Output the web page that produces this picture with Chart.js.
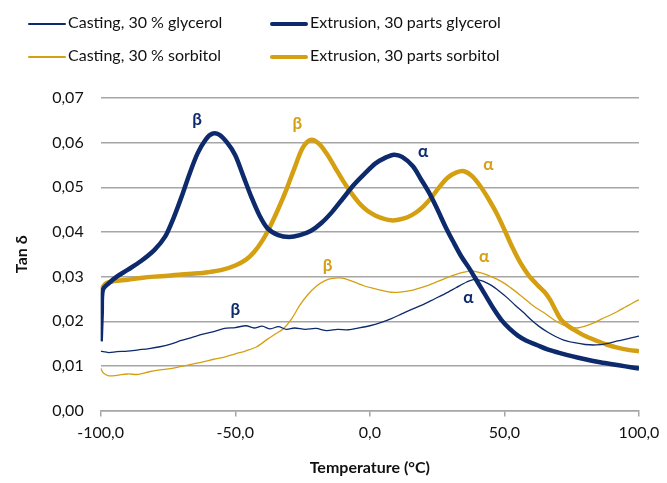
<!DOCTYPE html>
<html>
<head>
<meta charset="utf-8">
<script src="https://cdn.jsdelivr.net/npm/chart.js@4"></script>
<style>
  html, body { margin: 0; padding: 0; background: #fff; }
  #wrap { position: relative; width: 667px; height: 483px; }
  #legend { position: absolute; left: 0; top: 0; width: 667px; font-family: Lato, "Open Sans", sans-serif; font-size: 16px; color: #111; }
  .item { position: absolute; height: 20px; line-height: 20px; white-space: nowrap; }
  .item span.sw { display: inline-block; width: 38px; vertical-align: middle; margin-right: 2px; }
</style>
</head>
<body>
<div id="wrap">
  <canvas id="tanChart" width="667" height="483"></canvas>
  <div id="legend"></div>
</div>
<script>
// colours
const navy = "#0d2a6c";
const gold = "#d4a012";

// tick labels
const xTicks = [-100, -50, 0, 50, 100];
const yTicks = [0, 0.01, 0.02, 0.03, 0.04, 0.05, 0.06, 0.07];

// Casting, 30 % glycerol
const castGlyT = [-100, -97, -94, -90, -86, -82, -78, -74, -70, -66, -62, -58, -54, -50, -46, -43, -40, -37, -34, -31, -28, -24, -20, -16, -12, -8, -4, 0, 4, 8, 12, 16, 20, 24, 28, 32, 36, 39, 42, 45, 48, 51, 54, 57, 60, 63, 66, 69, 72, 76, 80, 84, 88, 92, 96, 100];
const castGlyV = [0.0133, 0.0130, 0.0132, 0.0133, 0.0136, 0.0139, 0.0143, 0.0149, 0.0157, 0.0164, 0.0171, 0.0177, 0.0184, 0.0186, 0.0190, 0.0185, 0.0189, 0.0183, 0.0188, 0.0182, 0.0185, 0.0182, 0.0184, 0.0179, 0.0182, 0.0181, 0.0185, 0.0190, 0.0197, 0.0206, 0.0217, 0.0228, 0.0238, 0.0250, 0.0262, 0.0275, 0.0288, 0.0294, 0.0290, 0.0281, 0.0268, 0.0253, 0.0236, 0.0220, 0.0203, 0.0188, 0.0176, 0.0166, 0.0158, 0.0152, 0.0148, 0.0147, 0.0150, 0.0156, 0.0161, 0.0167];

// Extrusion, 30 parts glycerol
const extGlyT = [-100, -99.6, -99.2, -97, -94, -90, -85, -80, -76, -73, -70, -67, -64, -61, -58.5, -56, -53, -50, -47, -44, -41, -38, -34, -30, -26, -22, -18, -14, -10, -6, -2, 2, 6, 9, 12, 16, 19, 22, 25, 28, 31, 34, 37, 40, 43, 46, 49, 52, 55, 58, 62, 66, 70, 75, 80, 85, 90, 95, 100];
const extGlyV = [0.0155, 0.0220, 0.0270, 0.0285, 0.0300, 0.0315, 0.0335, 0.0360, 0.0390, 0.0430, 0.0478, 0.0530, 0.0576, 0.0607, 0.0620, 0.0618, 0.0600, 0.0572, 0.0525, 0.0478, 0.0437, 0.0408, 0.0393, 0.0389, 0.0393, 0.0402, 0.0420, 0.0445, 0.0475, 0.0505, 0.0530, 0.0553, 0.0567, 0.0573, 0.0568, 0.0547, 0.0518, 0.0488, 0.0452, 0.0413, 0.0378, 0.0345, 0.0318, 0.0288, 0.0258, 0.0228, 0.0202, 0.0183, 0.0168, 0.0157, 0.0147, 0.0137, 0.0130, 0.0122, 0.0115, 0.0109, 0.0104, 0.0099, 0.0094];

// Casting, 30 % sorbitol
const castSorT = [-100, -99, -97, -94, -90, -86, -82, -78, -74, -70, -66, -62, -58, -54, -50, -46, -42, -38, -35, -32, -29, -26, -23, -20, -17, -14, -11, -8, -5, -2, 1, 4, 8, 12, 16, 20, 24, 28, 32, 35, 38, 41, 44, 47, 50, 53, 56, 59, 62, 65, 68, 71, 74, 77, 80, 83, 86, 89, 92, 95, 98, 100];
const castSorV = [0.0095, 0.0084, 0.0078, 0.0079, 0.0082, 0.0081, 0.0087, 0.0091, 0.0094, 0.0099, 0.0104, 0.0109, 0.0115, 0.0120, 0.0127, 0.0134, 0.0143, 0.0160, 0.0172, 0.0184, 0.0206, 0.0236, 0.0260, 0.0278, 0.0290, 0.0296, 0.0297, 0.0293, 0.0286, 0.0279, 0.0274, 0.0270, 0.0265, 0.0266, 0.0270, 0.0277, 0.0286, 0.0296, 0.0305, 0.0310, 0.0313, 0.0309, 0.0303, 0.0295, 0.0285, 0.0272, 0.0258, 0.0243, 0.0229, 0.0218, 0.0205, 0.0194, 0.0188, 0.0185, 0.0189, 0.0196, 0.0205, 0.0213, 0.0222, 0.0232, 0.0242, 0.0248];

// Extrusion, 30 parts sorbitol
const extSorT = [-100, -98, -95, -90, -85, -80, -75, -70, -65, -60, -55, -50, -46, -43, -40, -37, -34, -31, -28, -25, -22, -19, -16, -13, -10, -7, -4, -1, 2, 5, 8, 11, 14, 17, 20, 23, 26, 29, 32, 35, 38, 41, 44, 47, 50, 53, 56, 59, 62, 65, 67, 69, 71, 74, 77, 80, 84, 88, 92, 96, 100];
const extSorV = [0.0270, 0.0285, 0.0290, 0.0293, 0.0297, 0.0300, 0.0302, 0.0305, 0.0307, 0.0310, 0.0315, 0.0325, 0.0338, 0.0355, 0.0380, 0.0413, 0.0452, 0.0495, 0.0543, 0.0588, 0.0606, 0.0598, 0.0575, 0.0545, 0.0515, 0.0488, 0.0465, 0.0448, 0.0437, 0.0430, 0.0426, 0.0428, 0.0433, 0.0443, 0.0458, 0.0478, 0.0502, 0.0522, 0.0533, 0.0536, 0.0525, 0.0503, 0.0475, 0.0443, 0.0405, 0.0365, 0.0330, 0.0303, 0.0283, 0.0265, 0.0248, 0.0225, 0.0204, 0.0188, 0.0177, 0.0167, 0.0157, 0.0148, 0.0141, 0.0136, 0.0133];

// peak labels
const peakText = ["β", "β", "α", "α", "β", "β", "α", "α"];
const peakT = [-64.2, -26.9, 19.8, 44.0, -15.7, -50.0, 42.5, 36.6];
const peakV = [0.0652, 0.0642, 0.0580, 0.0552, 0.0325, 0.0226, 0.0346, 0.0253];
const peakCol = [navy, gold, navy, gold, gold, navy, gold, navy];

function pts(ts, vs) {
  return ts.map((t, i) => ({ x: t, y: vs[i] }));
}

const series = [
  { label: "Casting, 30 % glycerol", data: pts(castGlyT, castGlyV), borderColor: navy, borderWidth: 1.3 },
  { label: "Extrusion, 30 parts glycerol", data: pts(extGlyT, extGlyV), borderColor: navy, borderWidth: 4.5 },
  { label: "Casting, 30 % sorbitol", data: pts(castSorT, castSorV), borderColor: gold, borderWidth: 1.3 },
  { label: "Extrusion, 30 parts sorbitol", data: pts(extSorT, extSorV), borderColor: gold, borderWidth: 4.5 },
];
series.forEach(s => { s.pointRadius = 0; s.tension = 0.3; s.fill = false; });

// html legend, two columns
const legendPos = [[28, 12], [270, 12], [28, 45], [270, 45]];
const legend = document.getElementById("legend");
series.forEach((s, i) => {
  const d = document.createElement("div");
  d.className = "item";
  d.style.left = legendPos[i][0] + "px";
  d.style.top = legendPos[i][1] + "px";
  const h = s.borderWidth > 2 ? 4 : 1.5;
  d.innerHTML = '<span class="sw" style="height:' + h + 'px;background:' + s.borderColor + ';border-radius:2px"></span>' + s.label;
  legend.appendChild(d);
});

const peakLabels = {
  id: "peakLabels",
  afterDatasetsDraw(chart) {
    const c = chart.ctx;
    const xs = chart.scales.x, ys = chart.scales.y;
    c.save();
    c.font = "bold 17px Lato, 'Open Sans', sans-serif";
    c.textAlign = "center";
    c.textBaseline = "middle";
    peakText.forEach((t, i) => {
      c.fillStyle = peakCol[i];
      c.fillText(t, xs.getPixelForValue(peakT[i]), ys.getPixelForValue(peakV[i]));
    });
    c.restore();
  }
};

const fmt = (v, d) => v.toFixed(d).replace(".", ",");

new Chart(document.getElementById("tanChart"), {
  type: "line",
  data: { datasets: series },
  options: {
    responsive: false,
    animation: false,
    layout: { padding: { top: 98, right: 28, left: 8, bottom: 2 } },
    plugins: { legend: { display: false }, tooltip: { enabled: false } },
    scales: {
      x: {
        type: "linear",
        min: -100,
        max: 100,
        afterBuildTicks: axis => { axis.ticks = xTicks.map(v => ({ value: v })); },
        ticks: { color: "#111", font: { family: "Lato, 'Open Sans', sans-serif", size: 16 }, padding: 7, maxRotation: 0, callback: v => fmt(v, 1) },
        grid: { drawOnChartArea: false, color: "#a6a6a6", lineWidth: 1.5, tickLength: 6 },
        border: { display: true, color: "#a6a6a6", width: 1.5 },
        title: { display: true, text: "Temperature (°C)", color: "#111", font: { family: "Lato, 'Open Sans', sans-serif", size: 16, weight: "bold" }, padding: { top: 8 } }
      },
      y: {
        min: 0,
        max: 0.07,
        afterBuildTicks: axis => { axis.ticks = yTicks.map(v => ({ value: v })); },
        ticks: { color: "#111", font: { family: "Lato, 'Open Sans', sans-serif", size: 16 }, padding: 17, callback: v => fmt(v, 2) },
        grid: { color: "#a6a6a6", lineWidth: 1.5, drawTicks: false },
        border: { display: false },
        title: { display: true, text: "Tan δ", color: "#111", font: { family: "Lato, 'Open Sans', sans-serif", size: 16, weight: "bold" }, padding: { bottom: 4 } }
      }
    }
  },
  plugins: [peakLabels]
});
</script>
</body>
</html>
